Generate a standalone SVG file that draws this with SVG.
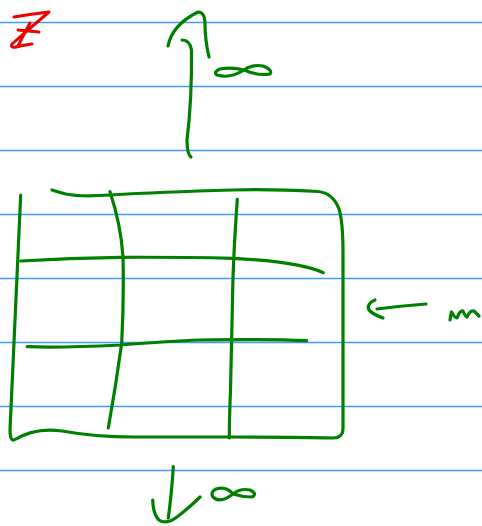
<svg xmlns="http://www.w3.org/2000/svg" width="482" height="526" viewBox="0 0 482 526">
<style>
.rule{stroke:#3d9bff;stroke-width:1.3;fill:none}
.ink{stroke:#008000;stroke-width:3.2;fill:none;stroke-linecap:round;stroke-linejoin:round}
.red{stroke:#ee0000;stroke-width:3;fill:none;stroke-linecap:round;stroke-linejoin:round}
</style>
<rect width="482" height="526" fill="#ffffff"/>
<g id="rules">
<line class="rule" x1="0" y1="22.5" x2="482" y2="22.5"/>
<line class="rule" x1="0" y1="86.5" x2="482" y2="86.5"/>
<line class="rule" x1="0" y1="150.5" x2="482" y2="150.5"/>
<line class="rule" x1="0" y1="214.5" x2="482" y2="214.5"/>
<line class="rule" x1="0" y1="278.5" x2="482" y2="278.5"/>
<line class="rule" x1="0" y1="342.5" x2="482" y2="342.5"/>
<line class="rule" x1="0" y1="406.5" x2="482" y2="406.5"/>
<line class="rule" x1="0" y1="470.5" x2="482" y2="470.5"/>
</g>
<g id="mark">
<path class="red" d="M14,17 Q32,14 49,12 Q30,28 12,44 Q10,48 16,47 Q24,45 32,44"/>
<path class="red" d="M30,23 Q24,34 18,46"/>
<path class="red" d="M18,30 Q28,31 39,32"/>
</g>
<g id="grid">
<path class="ink" d="M20.7,195 Q16,300 10,430 Q10,441 14,440 Q35,427 62,431 Q95,437 133,437 L230,437 Q300,437 333,438 Q344,438 343,426 Q343,340 343,253 Q343,222 339,209 Q333,193 318,191.5 Q270,189 233,190 Q160,192 110,195 Q80,197 66,194 Q58,192 52,190"/>
<path class="ink" d="M110,191.7 Q121,225 123,257 Q124,300 121.7,343 Q116,385 108.3,428"/>
<path class="ink" d="M237.3,199.3 Q233,260 232.5,300 Q231.7,343 230.5,390 Q229.3,420 229.3,438"/>
<path class="ink" d="M20.7,261 Q70,258 120,257.3 Q180,257 233.3,258.3 Q300,262 323.3,272.7"/>
<path class="ink" d="M27.3,346.7 Q60,348 120,345 Q170,341 200,340 Q270,339 306.7,340.7"/>
</g>
<g id="up-arrow">
<path class="ink" d="M182,40 Q190,40 191.5,50 Q192,100 187,140 Q187,154 191,157"/>
<path class="ink" d="M168,46 Q172,25 198,12 Q205,12 205,24 Q205,40 209,57"/>
<path class="ink" d="M244,70 Q232,67 220,69 Q213,72 217,75 Q230,79 244,70 Q252,64 263,66 Q273,70 270,74 Q258,76 244,70"/>
</g>
<g id="left-arrow">
<path class="ink" d="M426,304 Q400,306 377,309"/>
<path class="ink" d="M375,300 Q366,304 369,310 Q374,315 383,318"/>
<path class="ink" d="M450,320 Q451,314 451.5,312 Q455,318 457,318 Q460,310 463,311 Q465,316 467,317 Q470,310 474,311 Q477,314 479,316"/>
</g>
<g id="down-arrow">
<path class="ink" d="M173.3,466.7 Q172,490 168.3,518"/>
<path class="ink" d="M152.7,500 Q153,514 159,520 Q166,525 177,517 Q190,507 200,497"/>
<path class="ink" d="M233,494 Q226,486 216,489 Q210,492 213,497 Q220,504 233,494 Q240,488 250,490 Q258,494 252,497 Q242,497 233,494"/>
</g>
</svg>
